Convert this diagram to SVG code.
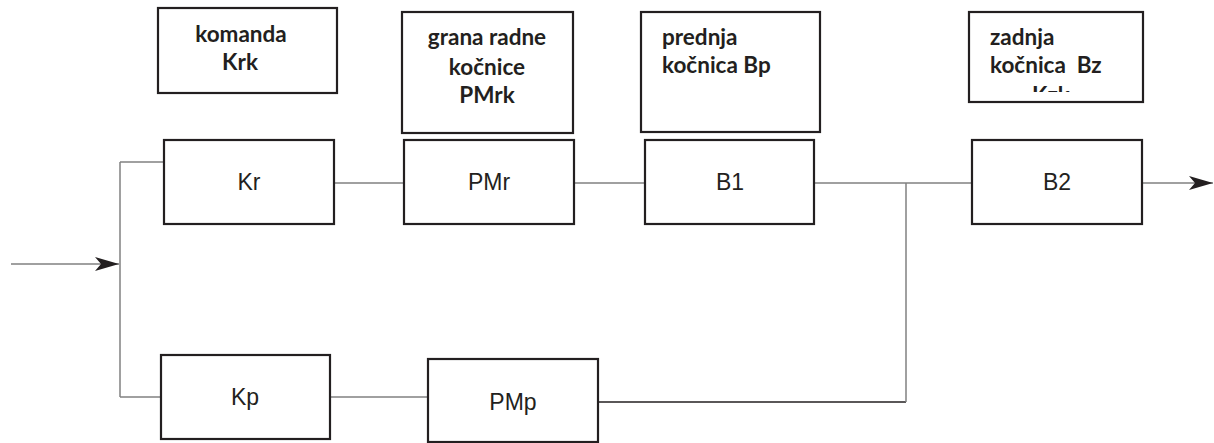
<svg xmlns="http://www.w3.org/2000/svg" width="1214" height="443" viewBox="0 0 1214 443">
  <style>
    .box { fill: #ffffff; stroke: #231f20; stroke-width: 2.2; }
    .lbl { font-family: "Liberation Sans", Arial, sans-serif; font-size: 23px; fill: #231f20; text-anchor: middle; }
    .note { font-family: Lato, "Open Sans", sans-serif; font-weight: bold; font-size: 22.5px; fill: #231f20; }
    .mid { text-anchor: middle; }
    .conn { fill: none; stroke: #808080; stroke-width: 1.5; }
    .dark { stroke: #231f20; stroke-width: 1.3; }
  </style>
  <defs>
    <marker id="arrow" viewBox="0 0 24 14" refX="24" refY="7" markerWidth="24" markerHeight="14" markerUnits="userSpaceOnUse" orient="auto">
      <path d="M0,0 L24,7 L0,14 L6,7 Z" fill="#231f20"/>
    </marker>
    <clipPath id="clipZ">
      <rect x="970" y="13" width="172" height="79"/>
    </clipPath>
  </defs>

  <g id="connectors">
    <path class="conn" d="M11,264 H119" marker-end="url(#arrow)"/>
    <path class="conn" d="M120,162 V397"/>
    <path class="conn" d="M120,162 H164"/>
    <path class="conn" d="M120,397 H161"/>
    <path class="conn" d="M334,183 H404"/>
    <path class="conn" d="M574,183 H645"/>
    <path class="conn" d="M814,183 H972"/>
    <path class="conn" d="M330,397 H428"/>
    <path class="conn dark" d="M598,402 H906"/>
    <path class="conn" d="M906,402 V183"/>
    <path class="conn" d="M1142,183 H1213" marker-end="url(#arrow)"/>
  </g>

  <g id="note-krk">
    <rect class="box" x="158" y="8" width="179" height="85"/>
    <text class="note mid" x="241" y="42">komanda</text>
    <text class="note mid" x="240" y="70">Krk</text>
  </g>
  <g id="note-pmrk">
    <rect class="box" x="402" y="12" width="171" height="121"/>
    <text class="note mid" x="487" y="45">grana radne</text>
    <text class="note mid" x="487" y="75">kočnice</text>
    <text class="note mid" x="487" y="103">PMrk</text>
  </g>
  <g id="note-bp">
    <rect class="box" x="641" y="12" width="179" height="120"/>
    <text class="note" x="662" y="45">prednja</text>
    <text class="note" x="662" y="73">kočnica Bp</text>
  </g>
  <g id="note-bz">
    <rect class="box" x="969" y="12" width="174" height="90"/>
    <text class="note" x="990" y="45">zadnja</text>
    <text class="note" x="990" y="73" xml:space="preserve">kočnica  Bz</text>
    <text class="note" x="1032" y="103" clip-path="url(#clipZ)">Kzk</text>
  </g>

  <g id="Kr">
    <rect class="box" x="164" y="140" width="170" height="84"/>
    <text class="lbl" x="249" y="190">Kr</text>
  </g>
  <g id="PMr">
    <rect class="box" x="404" y="140" width="170" height="84"/>
    <text class="lbl" x="489" y="190">PMr</text>
  </g>
  <g id="B1">
    <rect class="box" x="645" y="140" width="169" height="84"/>
    <text class="lbl" x="730" y="190">B1</text>
  </g>
  <g id="B2">
    <rect class="box" x="972" y="140" width="170" height="84"/>
    <text class="lbl" x="1057" y="190">B2</text>
  </g>
  <g id="Kp">
    <rect class="box" x="161" y="355" width="169" height="84"/>
    <text class="lbl" x="245" y="405">Kp</text>
  </g>
  <g id="PMp">
    <rect class="box" x="428" y="359" width="170" height="83"/>
    <text class="lbl" x="513" y="410">PMp</text>
  </g>
</svg>
